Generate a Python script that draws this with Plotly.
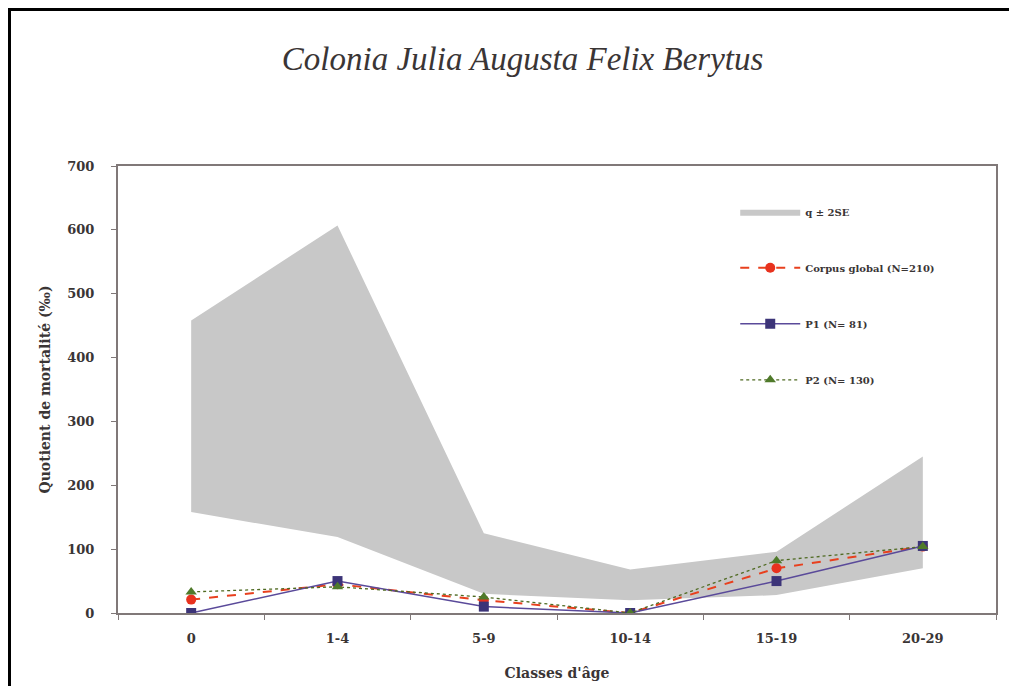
import plotly.graph_objects as go

categories = ["0", "1-4", "5-9", "10-14", "15-19", "20-29"]
band_upper = [458, 607, 125, 68, 96, 245]
band_lower = [158, 119, 30, 20, 28, 70]
corpus_global = [21, 45, 20, 0, 70, 104]
p1 = [0, 50, 10, 0, 50, 105]
p2 = [33, 41, 25, 0, 82, 104]

serif = "Liberation Serif, Times New Roman, serif"
wide = "DejaVu Serif, serif"
txt = "#3a3535"

fig = go.Figure()
fig.add_trace(go.Scatter(x=categories, y=band_lower, mode="lines",
                         line=dict(width=0, color="#c8c8c8"),
                         showlegend=False, hoverinfo="skip"))
fig.add_trace(go.Scatter(x=categories, y=band_upper, mode="lines",
                         line=dict(width=0, color="#c8c8c8"),
                         fill="tonexty", fillcolor="#c8c8c8",
                         name="<b>q ± 2SE</b>", legendgroup="a", legendrank=1))
fig.add_trace(go.Scatter(x=categories, y=corpus_global, mode="lines+markers",
                         line=dict(color="#e8401e", width=2, dash="dash"),
                         marker=dict(symbol="circle", size=10, color="#e8321e"),
                         name="<b>Corpus global (N=210)</b>", legendgroup="b", legendrank=2))
fig.add_trace(go.Scatter(x=categories, y=p1, mode="lines+markers",
                         line=dict(color="#5a4a9a", width=1.5),
                         marker=dict(symbol="square", size=10, color="#3c3478"),
                         name="<b>P1 (N= 81)</b>", legendgroup="c", legendrank=3))
fig.add_trace(go.Scatter(x=categories, y=p2, mode="lines+markers",
                         line=dict(color="#4f6a22", width=1.3, dash="dot"),
                         marker=dict(symbol="triangle-up", size=10, color="#4f7a2a"),
                         name="<b>P2 (N= 130)</b>", legendgroup="d", legendrank=4))

W, H = 1009, 678
fig.update_layout(
    width=W, height=H,
    margin=dict(l=110, r=21, t=158, b=73),
    paper_bgcolor="white", plot_bgcolor="white",
    title=dict(text="<i>Colonia Julia Augusta Felix Berytus</i>",
               x=0.51, xanchor="center", y=0.925, yanchor="middle",
               font=dict(family=serif, size=33, color="#3a3535")),
    font=dict(family=serif, color=txt),
    legend=dict(x=0.703, y=0.93, xanchor="left", yanchor="top",
                bgcolor="rgba(0,0,0,0)", tracegroupgap=37, itemwidth=60,
                traceorder="grouped",
                font=dict(family=wide, size=10, color=txt)),
    showlegend=True,
)
fig.update_xaxes(type="category", range=[-0.5, 5.5], automargin=False,
                 showline=True, linecolor="#807878", linewidth=2,
                 mirror=True, ticks="outside", ticklen=5, tickcolor="#807878",
                 tickson="boundaries", showgrid=False, ticklabelstandoff=12,
                 tickfont=dict(family=wide, size=13, color=txt),
                 tickprefix="<b>", ticksuffix="</b>",
                 title=dict(text="<b>Classes d'âge</b>", standoff=24,
                            font=dict(family=wide, size=14, color=txt)))
fig.update_yaxes(range=[0, 700], dtick=100, automargin=False,
                 showline=True, linecolor="#807878",
                 linewidth=2, mirror=True, ticks="outside", ticklen=5,
                 tickcolor="#807878", showgrid=False, zeroline=False,
                 ticklabelstandoff=14,
                 tickfont=dict(family=wide, size=13, color=txt),
                 tickprefix="<b>", ticksuffix="</b>",
                 title=dict(text="<b>Quotient de mortalité (‰)</b>", standoff=13,
                            font=dict(family=wide, size=14, color=txt)))

# outer black frame (paper-relative)
pw = W - 110 - 21
ph = H - 158 - 73
fig.add_shape(type="rect", xref="paper", yref="paper",
              x0=(1.5 - 110) / pw, x1=1.2, y0=-0.3, y1=(ph + 158 - 1.5) / ph,
              line=dict(color="black", width=3), fillcolor="rgba(0,0,0,0)")

fig.write_html("out.html")
